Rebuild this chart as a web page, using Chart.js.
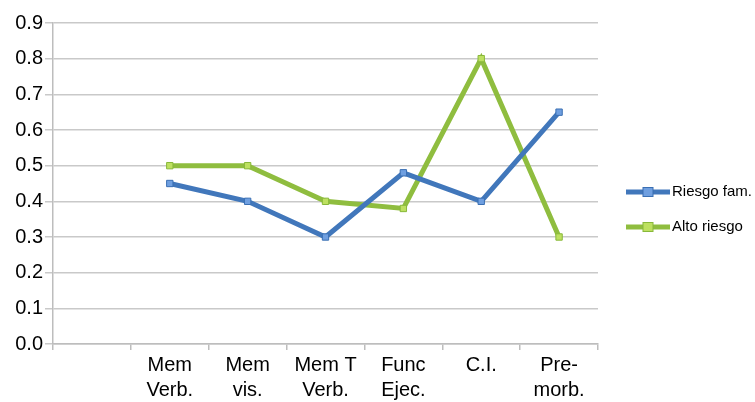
<!DOCTYPE html>
<html>
<head>
<meta charset="utf-8">
<script src="https://cdn.jsdelivr.net/npm/chart.js@4/dist/chart.umd.min.js"></script>
<style>
  html, body { margin: 0; padding: 0; background: #fff; }
  #wrap { width: 755px; height: 402px; position: relative; }
</style>
</head>
<body>
<div id="wrap"><canvas id="lineChart"></canvas></div>
<script>
// categories (first slot is left empty, as in the original)
const categories = ["", ["Mem", "Verb."], ["Mem", "vis."], ["Mem T", "Verb."], ["Func", "Ejec."], ["C.I."], ["Pre-", "morb."]];
const riesgoFam = [null, 0.45, 0.40, 0.30, 0.48, 0.40, 0.65];
const altoRiesgo = [null, 0.50, 0.50, 0.40, 0.38, 0.80, 0.30];
const seriesNames = ["Riesgo fam.", "Alto riesgo"];

const FONT = "'Liberation Sans', Arial, sans-serif";

// === Side legend: line + square marker, like the spreadsheet legend ===
const sideLegend = {
  id: "sideLegend",
  afterDraw(chart) {
    const ctx = chart.ctx;
    const x0 = 626, x1 = 670;
    const rows = [192, 227];
    chart.data.datasets.forEach((ds, i) => {
      const y = rows[i];
      ctx.save();
      ctx.strokeStyle = ds.borderColor;
      ctx.lineWidth = 5;
      ctx.beginPath();
      ctx.moveTo(x0, y);
      ctx.lineTo(x1, y);
      ctx.stroke();
      ctx.fillStyle = ds.pointBackgroundColor;
      ctx.strokeStyle = ds.pointBorderColor;
      ctx.lineWidth = 1;
      ctx.fillRect(x0 + 17, y - 4.5, 10, 9);
      ctx.strokeRect(x0 + 17, y - 4.5, 10, 9);
      ctx.fillStyle = "#000";
      ctx.font = "15px " + FONT;
      ctx.textBaseline = "middle";
      ctx.fillText(ds.label, x1 + 2, y);
      ctx.restore();
    });
  }
};

new Chart(document.getElementById("lineChart"), {
  type: "line",
  data: {
    labels: categories,
    datasets: [
      {
        label: seriesNames[0],
        data: riesgoFam,
        borderColor: "#4177bb",
        borderWidth: 5,
        pointStyle: "rect",
        pointRadius: 4.5,
        pointBackgroundColor: "#6f9fe0",
        pointBorderColor: "#3a6fb3",
        pointBorderWidth: 1,
        tension: 0
      },
      {
        label: seriesNames[1],
        data: altoRiesgo,
        borderColor: "#8fbd3f",
        borderWidth: 5,
        pointStyle: "rect",
        pointRadius: 4.5,
        pointBackgroundColor: "#bde060",
        pointBorderColor: "#88b83a",
        pointBorderWidth: 1,
        tension: 0
      }
    ]
  },
  options: {
    responsive: true,
    maintainAspectRatio: false,
    animation: false,
    layout: { padding: { top: 23, right: 157, left: 0, bottom: 0 } },
    plugins: {
      legend: { display: false },
      tooltip: { enabled: false }
    },
    scales: {
      x: {
        offset: true,
        grid: {
          offset: true,
          drawOnChartArea: false,
          color: "#bdbdbd",
          tickLength: 6,
          lineWidth: 1.5
        },
        border: { color: "#bdbdbd", width: 1.5 },
        ticks: {
          color: "#000",
          font: { family: FONT, size: 20, lineHeight: 1.25 },
          maxRotation: 0,
          autoSkip: false,
          padding: 3
        },
        afterFit(scale) { scale.height = 58; }
      },
      y: {
        min: 0,
        max: 0.9,
        ticks: {
          stepSize: 0.1,
          color: "#000",
          font: { family: FONT, size: 20 },
          padding: 2,
          callback: v => Number(v).toFixed(1)
        },
        grid: {
          color: "#c9c9c9",
          lineWidth: 1.5,
          tickLength: 8
        },
        border: { color: "#bdbdbd", width: 1.5 },
        afterFit(scale) { scale.width = 53; }
      }
    }
  },
  plugins: [sideLegend]
});
</script>
</body>
</html>
